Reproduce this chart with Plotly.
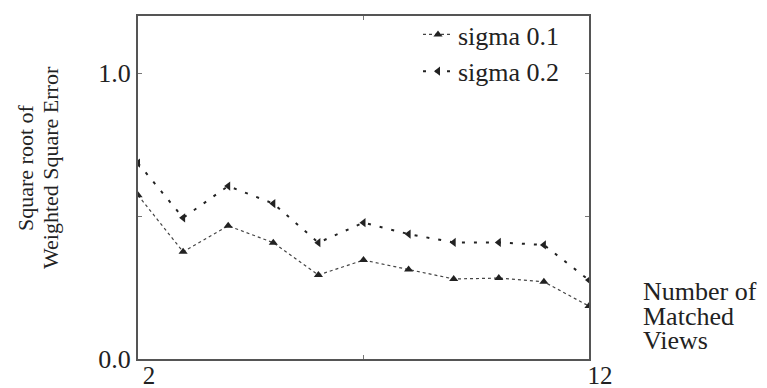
import plotly.graph_objects as go

views = [2, 3, 4, 5, 6, 7, 8, 9, 10, 11, 12]
sigma01 = [0.573, 0.375, 0.466, 0.407, 0.294, 0.346, 0.313, 0.280, 0.283, 0.270, 0.185]
sigma02 = [0.685, 0.494, 0.605, 0.544, 0.407, 0.477, 0.437, 0.408, 0.408, 0.399, 0.276]
series_names = ["sigma 0.1", "sigma 0.2"]
x_tickvals = [2, 7, 12]
x_ticktext = ["2", "", "12"]
y_tickvals = [0.0, 0.5, 1.0]
y_ticktext = ["0.0", "", "1.0"]
y_title_lines = ["Square root of", "Weighted Square Error"]
x_title_lines = ["Number of", "Matched", "Views"]

FONT = "Liberation Serif, Times New Roman, serif"
INK = "#222222"

L, R, T, B = 138, 178, 16, 29
W, H = 767, 388
PW, PH = W - L - R, H - T - B


def px_to_paper_x(px):
    return (px - L) / PW


def px_to_paper_y(py):
    return (H - B - py) / PH


fig = go.Figure()
fig.add_trace(go.Scatter(
    x=views, y=sigma01, name=series_names[0], mode="lines+markers",
    line=dict(color="#444444", width=1.2, dash="dot"),
    marker=dict(symbol="triangle-up", size=8, color=INK),
))
fig.add_trace(go.Scatter(
    x=views, y=sigma02, name=series_names[1], mode="lines+markers",
    line=dict(color=INK, width=2, dash="3px,9px"),
    marker=dict(symbol="triangle-left", size=8, color=INK),
))

fig.update_layout(
    width=W, height=H,
    margin=dict(l=L, r=R, t=T, b=B, autoexpand=False),
    paper_bgcolor="white", plot_bgcolor="white",
    font=dict(family=FONT, color=INK, size=26),
    showlegend=True,
    legend=dict(x=px_to_paper_x(565), y=px_to_paper_y(11), xanchor="right", yanchor="top",
                bgcolor="rgba(0,0,0,0)", font=dict(size=26, family=FONT),
                itemwidth=30, tracegroupgap=0),
    xaxis=dict(range=[2, 12], tickvals=x_tickvals, ticktext=x_ticktext,
               showgrid=False, zeroline=False, showline=True, mirror="ticks",
               linecolor="#555555", linewidth=2, ticks="inside", ticklen=4,
               tickcolor="#777777", tickfont=dict(size=25, family=FONT),
               ticklabelshift=11, ticklabelstandoff=-7, automargin=False),
    yaxis=dict(range=[0, 1.2], tickvals=y_tickvals, ticktext=y_ticktext,
               showgrid=False, zeroline=False, showline=True, mirror="ticks",
               linecolor="#555555", linewidth=2, ticks="inside", ticklen=4,
               tickcolor="#777777", tickfont=dict(size=26, family=FONT),
               automargin=False),
)

for text, cx in zip(y_title_lines, [25, 50]):
    fig.add_annotation(
        text=text, textangle=-90,
        xref="paper", yref="paper", x=px_to_paper_x(cx), y=px_to_paper_y(168),
        xanchor="center", yanchor="middle",
        showarrow=False, font=dict(size=22, family=FONT, color=INK),
    )

for text, cy in zip(x_title_lines, [291, 316, 340]):
    fig.add_annotation(
        text=text,
        xref="paper", yref="paper", x=px_to_paper_x(641), y=px_to_paper_y(cy),
        xanchor="left", yanchor="middle",
        showarrow=False, font=dict(size=26, family=FONT, color=INK), align="left",
    )

fig.write_html(
    "out.html",
    config={"displayModeBar": False},
    post_script="document.body.style.margin='0';document.body.style.overflow='hidden';",
)
